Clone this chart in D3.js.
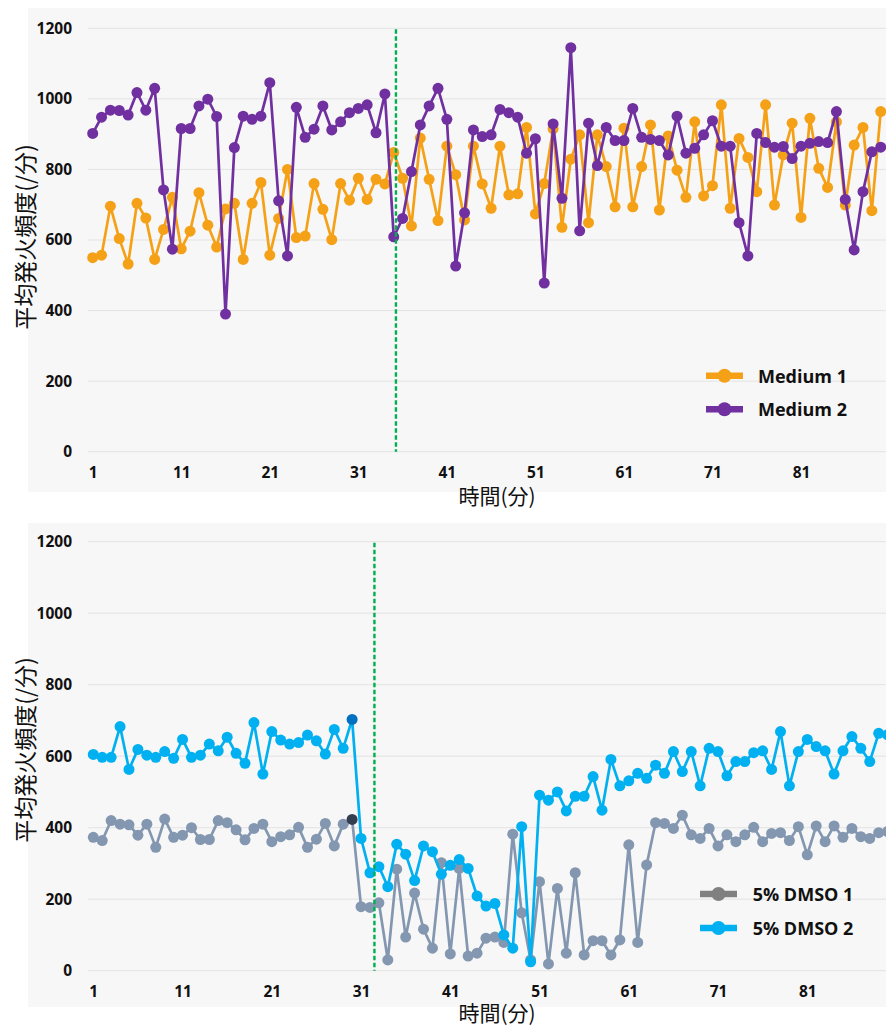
<!DOCTYPE html>
<html>
<head>
<meta charset="utf-8">
<script src="https://cdn.jsdelivr.net/npm/d3@7"></script>
<style>
  html, body { margin: 0; padding: 0; background: #ffffff; }
  svg { display: block; }
  .axis text { font-family: "Open Sans", "Lato", sans-serif; font-weight: 700; fill: #111; }
  .legend text { font-family: "Open Sans", "Lato", sans-serif; font-weight: 700; fill: #111; }
  .title { font-family: "Noto Sans CJK JP", sans-serif; fill: #111; }
</style>
</head>
<body>
<svg id="chart" width="886" height="1028"></svg>
<script>
// ---- data: mean firing frequency per minute ----
const minutes = d3.range(1, 91);

const medium1 = [550, 557, 696, 604, 532, 704, 662, 545, 630, 721,
                 575, 625, 734, 642, 580, 688, 704, 545, 704, 763,
                 557, 661, 800, 607, 611, 760, 687, 601, 760, 713,
                 775, 715, 772, 759, 848, 775, 640, 889, 772, 655,
                 866, 785, 657, 866, 759, 690, 866, 728, 731, 919,
                 674, 760, 915, 636, 829, 898, 649, 898, 808, 694,
                 917, 694, 808, 926, 685, 895, 798, 721, 935, 725,
                 754, 983, 690, 888, 834, 737, 983, 699, 841, 931,
                 664, 945, 803, 749, 935, 699, 869, 919, 683, 964];

const medium2 = [902, 948, 968, 967, 954, 1018, 968, 1030, 742, 574,
                 916, 916, 980, 999, 950, 390, 862, 951, 942, 951,
                 1046, 711, 555, 976, 891, 914, 980, 912, 935, 961,
                 973, 983, 904, 1014, 609, 661, 794, 926, 980, 1030,
                 942, 526, 677, 912, 893, 898, 970, 961, 948, 846,
                 887, 478, 929, 718, 1145, 626, 931, 811, 919, 882,
                 882, 973, 891, 885, 882, 841, 951, 846, 860, 898,
                 938, 866, 866, 649, 555, 902, 876, 863, 865, 831,
                 866, 874, 879, 876, 964, 715, 572, 737, 850, 863];

const dmso1 = [373, 364, 420, 410, 408, 379, 410, 345, 424, 373,
               379, 400, 367, 367, 420, 414, 394, 366, 398, 410,
               361, 375, 380, 401, 345, 368, 412, 349, 410, 423,
               179, 177, 190, 30, 284, 94, 217, 116, 63, 302,
               47, 286, 41, 49, 91, 94, 79, 382, 162, 30,
               249, 19, 230, 49, 274, 44, 84, 84, 44, 86,
               352, 79, 296, 414, 412, 398, 435, 380, 370, 398,
               349, 380, 361, 380, 401, 361, 384, 386, 364, 403,
               324, 405, 361, 405, 373, 398, 375, 370, 386, 389];

const dmso2 = [605, 597, 597, 683, 563, 619, 603, 597, 613, 594,
               647, 597, 603, 634, 615, 653, 608, 580, 694, 550,
               669, 645, 634, 638, 659, 643, 606, 675, 622, 703,
               370, 274, 291, 235, 354, 326, 252, 349, 333, 270,
               295, 311, 286, 209, 181, 188, 100, 63, 403, 25,
               491, 477, 500, 447, 488, 488, 543, 449, 591, 517,
               531, 552, 538, 575, 552, 613, 557, 613, 517, 622,
               613, 545, 585, 585, 610, 615, 563, 669, 517, 613,
               647, 627, 615, 550, 615, 655, 622, 585, 664, 660];

// minute at which the treatment was applied (dashed marker)
const medium_event = 35.25;
const dmso_event = 32.5;
// minute whose point is highlighted in the DMSO panel
const dmso_highlight = 30;

const xTickLabels = [1, 11, 21, 31, 41, 51, 61, 71, 81];
const yTicks = [0, 200, 400, 600, 800, 1000, 1200];

const yTitle = "平均発火頻度(/分)";
const xTitle = "時間(分)";

// ---- panel layout ----
const svg = d3.select("#chart");

const panels = [
  {
    bg: { x: 28, y: 8, h: 484 },
    xRange: [92.7, 880.7],
    yRange: [451.7, 28.3],
    yTitlePos: [23.5, 237],
    xTitlePos: [497, 504],
    event: medium_event,
    legend: { x0: 706, x1: 743, tx: 758, y: 375.7, gap: 33.6 },
    series: [
      { name: "Medium 1", values: medium1, color: "#f5a118", legendColor: "#f5a118" },
      { name: "Medium 2", values: medium2, color: "#7030a0", legendColor: "#7030a0" }
    ],
    highlight: null
  },
  {
    bg: { x: 28, y: 523, h: 484 },
    xRange: [93.3, 887.6],
    yRange: [970.7, 541.7],
    yTitlePos: [23.5, 750],
    xTitlePos: [497, 1021],
    event: dmso_event,
    legend: { x0: 700, x1: 737, tx: 752.7, y: 894, gap: 34 },
    series: [
      { name: "5% DMSO 1", values: dmso1, color: "#8497b0", legendColor: "#808080", hiColor: "#333f50" },
      { name: "5% DMSO 2", values: dmso2, color: "#00b0f0", legendColor: "#00b0f0", hiColor: "#0070c0" }
    ],
    highlight: dmso_highlight
  }
];

panels.forEach(p => {
  const g = svg.append("g");

  g.append("rect")
    .attr("x", p.bg.x).attr("y", p.bg.y)
    .attr("width", 886 - p.bg.x + 10).attr("height", p.bg.h)
    .attr("fill", "#f7f7f7");

  const x = d3.scaleLinear().domain([1, 90]).range(p.xRange);
  const y = d3.scaleLinear().domain([0, 1200]).range(p.yRange);

  // horizontal gridlines
  g.append("g").selectAll("line").data(yTicks).join("line")
    .attr("x1", 88).attr("x2", 900)
    .attr("y1", d => y(d)).attr("y2", d => y(d))
    .attr("stroke", "#e3e3e3").attr("stroke-width", 1);

  // y axis labels
  const ya = g.append("g").attr("class", "axis")
    .attr("transform", `translate(88,0)`)
    .call(d3.axisLeft(y).tickValues(yTicks).tickFormat(d3.format("d"))
      .tickSize(0).tickPadding(16));
  ya.select(".domain").remove();
  ya.selectAll("text").style("font-size", "15.5px");

  // x axis labels
  const xa = g.append("g").attr("class", "axis")
    .attr("transform", `translate(0,${p.yRange[0]})`)
    .call(d3.axisBottom(x).tickValues(xTickLabels).tickFormat(d3.format("d"))
      .tickSize(0).tickPadding(15));
  xa.select(".domain").remove();
  xa.selectAll("text").style("font-size", "15.5px");

  // axis titles
  g.append("text").attr("class", "title")
    .attr("transform", `translate(${p.yTitlePos[0]},${p.yTitlePos[1]}) rotate(-90)`)
    .attr("text-anchor", "middle").attr("dominant-baseline", "central")
    .style("font-size", "23px")
    .text(yTitle);

  g.append("text").attr("class", "title")
    .attr("x", p.xTitlePos[0]).attr("y", p.xTitlePos[1])
    .attr("text-anchor", "middle")
    .style("font-size", "21px")
    .text(xTitle);

  // series: line first, then its markers; later series draw on top
  const line = d3.line().x((d, i) => x(minutes[i])).y(d => y(d));
  p.series.forEach(s => {
    g.append("path")
      .datum(s.values)
      .attr("d", line)
      .attr("fill", "none")
      .attr("stroke", s.color)
      .attr("stroke-width", 2.7)
      .attr("stroke-linejoin", "round");
    g.append("g").selectAll("circle").data(s.values).join("circle")
      .attr("cx", (d, i) => x(minutes[i]))
      .attr("cy", d => y(d))
      .attr("r", 5.5)
      .attr("fill", (d, i) => (p.highlight === minutes[i] && s.hiColor) ? s.hiColor : s.color);
  });

  // treatment marker
  g.append("line")
    .attr("x1", x(p.event)).attr("x2", x(p.event))
    .attr("y1", y(1200) + 1).attr("y2", y(0))
    .attr("stroke", "#00b050")
    .attr("stroke-width", 2.4)
    .attr("stroke-dasharray", "4.5,2.5");

  // legend
  const lg = g.append("g").attr("class", "legend");
  p.series.forEach((s, k) => {
    const ly = p.legend.y + k * p.legend.gap;
    lg.append("line")
      .attr("x1", p.legend.x0).attr("x2", p.legend.x1)
      .attr("y1", ly).attr("y2", ly)
      .attr("stroke", s.legendColor).attr("stroke-width", 6.5);
    lg.append("circle")
      .attr("cx", (p.legend.x0 + p.legend.x1) / 2).attr("cy", ly)
      .attr("r", 7).attr("fill", s.legendColor);
    lg.append("text")
      .attr("x", p.legend.tx).attr("y", ly)
      .attr("dominant-baseline", "central")
      .style("font-size", "18px")
      .text(s.name);
  });
});
</script>
</body>
</html>
